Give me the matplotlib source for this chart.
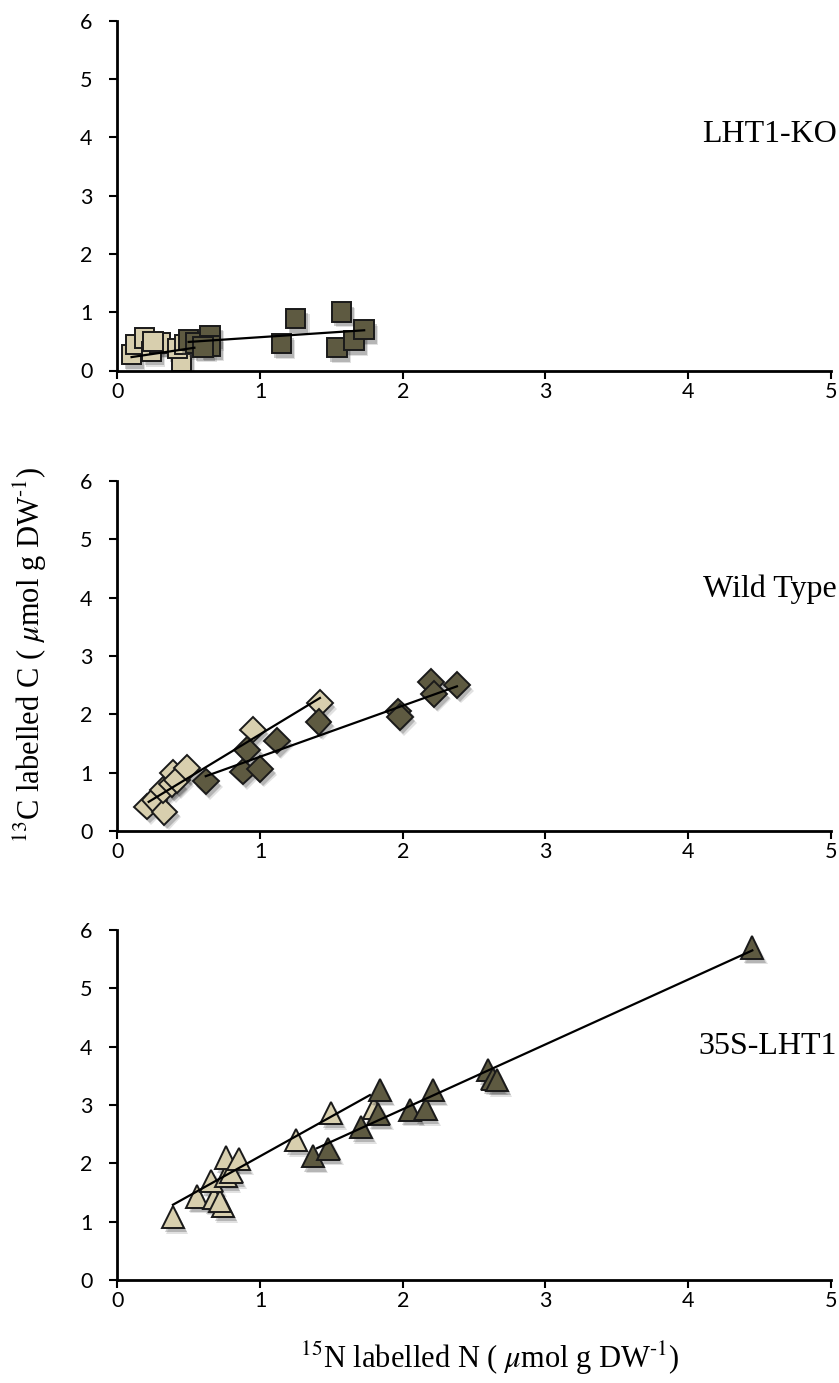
import matplotlib
matplotlib.use("Agg")
import matplotlib.pyplot as plt
import matplotlib.patheffects as pe
import numpy as np

# ---- data: 15N (x) and 13C (y), umol g DW-1 ----
ko_light_x = [0.10, 0.13, 0.19, 0.24, 0.30, 0.25, 0.45, 0.42, 0.47]
ko_light_y = [0.27, 0.45, 0.56, 0.33, 0.47, 0.50, 0.16, 0.38, 0.45]
ko_dark_x = [0.50, 0.55, 0.65, 0.65, 0.60, 1.15, 1.25, 1.57, 1.54, 1.66, 1.73]
ko_dark_y = [0.52, 0.47, 0.60, 0.42, 0.40, 0.46, 0.89, 1.00, 0.39, 0.51, 0.70]
ko_light_fit_x = [0.10, 0.54]
ko_light_fit_y = [0.23, 0.39]
ko_dark_fit_x = [0.50, 1.73]
ko_dark_fit_y = [0.49, 0.69]

wt_light_x = [0.21, 0.26, 0.33, 0.32, 0.38, 0.39, 0.42, 0.49, 0.95, 1.42]
wt_light_y = [0.42, 0.53, 0.33, 0.70, 0.80, 0.99, 0.87, 1.08, 1.74, 2.19]
wt_dark_x = [0.62, 0.88, 1.00, 0.91, 1.12, 1.41, 1.97, 1.98, 2.20, 2.22, 2.38]
wt_dark_y = [0.85, 1.02, 1.06, 1.39, 1.55, 1.87, 2.05, 1.95, 2.55, 2.35, 2.50]
wt_light_fit_x = [0.22, 1.42]
wt_light_fit_y = [0.50, 2.28]
wt_dark_fit_x = [0.62, 2.38]
wt_dark_fit_y = [0.94, 2.48]

ox_light_x = [0.39, 0.56, 0.68, 0.74, 0.72, 0.66, 0.76, 0.80, 0.76, 0.85, 1.25, 1.50, 1.80]
ox_light_y = [1.08, 1.43, 1.40, 1.27, 1.35, 1.70, 1.78, 1.85, 2.10, 2.08, 2.40, 2.86, 2.95]
ox_dark_x = [1.37, 1.48, 1.71, 1.83, 1.84, 2.05, 2.16, 2.21, 2.60, 2.63, 2.66, 4.45]
ox_dark_y = [2.12, 2.25, 2.62, 2.85, 3.26, 2.92, 2.93, 3.26, 3.60, 3.45, 3.43, 5.70]
ox_light_fit_x = [0.39, 1.77]
ox_light_fit_y = [1.29, 3.17]
ox_dark_fit_x = [1.40, 4.45]
ox_dark_fit_y = [2.26, 5.65]

panel_names = ["LHT1-KO", "Wild Type", "35S-LHT1"]
x_ticks = [0, 1, 2, 3, 4, 5]
y_ticks = [0, 1, 2, 3, 4, 5, 6]

LIGHT = "#d8cfae"
DARK = "#5e5a41"

plt.rcParams["mathtext.fontset"] = "stix"

W, H = 839, 1383
fig = plt.figure(figsize=(W / 100, H / 100), dpi=100)
fig.patch.set_facecolor("white")


def px_axes(left, top, right, bottom):
    return fig.add_axes([left / W, 1 - bottom / H, (right - left) / W, (bottom - top) / H])


shadow = [pe.SimplePatchShadow(offset=(3, -4), shadow_rgbFace="0.35", alpha=0.18),
          pe.SimplePatchShadow(offset=(2, -3), shadow_rgbFace="0.2", alpha=0.25),
          pe.Normal()]

panels = [
    (ko_light_x, ko_light_y, ko_dark_x, ko_dark_y,
     ko_light_fit_x, ko_light_fit_y, ko_dark_fit_x, ko_dark_fit_y, "s", 14),
    (wt_light_x, wt_light_y, wt_dark_x, wt_dark_y,
     wt_light_fit_x, wt_light_fit_y, wt_dark_fit_x, wt_dark_fit_y, "D", 13),
    (ox_light_x, ox_light_y, ox_dark_x, ox_dark_y,
     ox_light_fit_x, ox_light_fit_y, ox_dark_fit_x, ox_dark_fit_y, "^", 16),
]
frames = [(117.3, 20.7, 830.8, 370.5),
          (117.3, 481.0, 830.8, 831.0),
          (117.3, 930.0, 830.8, 1280.0)]
label_y = [4.05, 4.15, 4.0]

serif = "Liberation Serif"

for i, (p, fr) in enumerate(zip(panels, frames)):
    lx, ly, dx, dy, lfx, lfy, dfx, dfy, mk, ms = p
    ax = px_axes(*fr)
    ax.plot(lx, ly, ls="none", marker=mk, ms=ms, mfc=LIGHT, mec="#1a1a1a",
            mew=1.4, path_effects=shadow, zorder=3)
    ax.plot(dx, dy, ls="none", marker=mk, ms=ms, mfc=DARK, mec="#1a1a1a",
            mew=1.4, path_effects=shadow, zorder=4)
    ax.plot(lfx, lfy, color="black", lw=1.6, zorder=5)
    ax.plot(dfx, dfy, color="black", lw=1.6, zorder=5)

    ax.set_xlim(0, 5)
    ax.set_ylim(0, 6)
    ax.set_xticks(x_ticks)
    ax.set_yticks(y_ticks)
    for s in ("top", "right"):
        ax.spines[s].set_visible(False)
    for s in ("left", "bottom"):
        ax.spines[s].set_linewidth(2.0)
        ax.spines[s].set_zorder(6)
    ax.tick_params(direction="out", length=6, width=1.5, color="black")
    ax.tick_params(axis="y", pad=12)
    ax.tick_params(axis="x", pad=2)
    for t in ax.get_xticklabels() + ax.get_yticklabels():
        t.set_fontfamily("Lato")
        t.set_fontsize(15.5)
    ax.text(5.04, label_y[i], panel_names[i], ha="right", va="center",
            fontfamily=serif, fontsize=23, clip_on=False)

fig.text(30 / W, 1 - 655 / H, r"$^{13}$C labelled C ( $\mu$mol g DW$^{\text{-}1}$)",
         rotation=90, ha="center", va="center", fontfamily=serif, fontsize=22)
fig.text(490 / W, 1 - 1358 / H, r"$^{15}$N labelled N ( $\mu$mol g DW$^{\text{-}1}$)",
         ha="center", va="center", fontfamily=serif, fontsize=22)

fig.savefig("out.png", dpi=100, facecolor="white")
